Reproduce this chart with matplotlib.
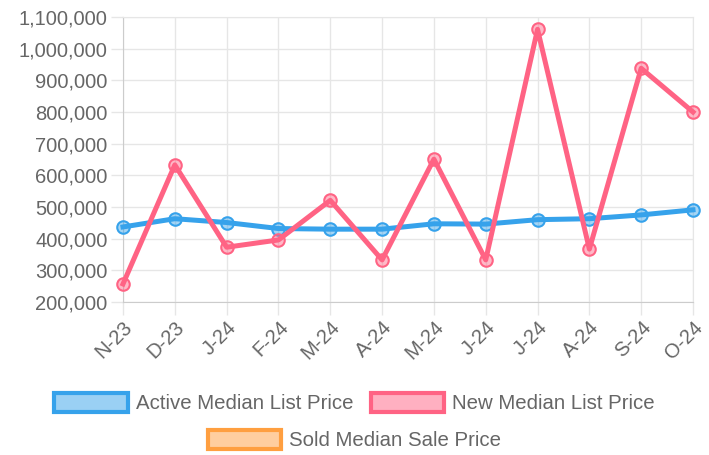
import matplotlib
matplotlib.use("Agg")
import matplotlib.pyplot as plt
from matplotlib.patches import Patch
from matplotlib.ticker import FuncFormatter
from matplotlib.colors import to_rgba

months = ["N-23", "D-23", "J-24", "F-24", "M-24", "A-24",
          "M-24", "J-24", "J-24", "A-24", "S-24", "O-24"]
active_list = [437000, 463000, 451000, 432000, 430000, 430000,
               447000, 446000, 460000, 463000, 475000, 491000]
new_list = [257000, 633000, 373000, 396000, 521000, 333000,
            651000, 333000, 1061000, 367000, 938000, 800000]
sold_sale = []  # no points drawn in the reference

blue = "#36A2EB"
red = "#FF6384"
orange = "#FF9F40"
txt = "#666666"
grid = "#e6e6e6"

plt.rcParams["font.family"] = ["Liberation Sans", "DejaVu Sans"]

fig = plt.figure(figsize=(7.09, 4.55), dpi=100)
ax = fig.add_axes([123/709, 1 - 302/455, (693-123)/709, (302-17)/455])

x = list(range(len(months)))
for vals, c in [(active_list, blue), (new_list, red)]:
    ax.plot(x, vals, color=c, lw=3.6, marker="o", ms=9,
            mfc=to_rgba(c, 0.45), mec=c, mew=1.5, zorder=3, clip_on=False)

ax.set_xlim(0, len(months) - 1)
ax.set_ylim(200000, 1100000)
ax.set_yticks(range(200000, 1100001, 100000))
ax.yaxis.set_major_formatter(FuncFormatter(lambda v, p: f"{int(v):,}"))
ax.set_xticks(x)
ax.set_xticklabels(months, rotation=45, ha="right", rotation_mode="anchor")

ax.grid(True, color=grid, lw=1)
ax.set_axisbelow(True)
for s in ax.spines.values():
    s.set_color(grid)
ax.spines["left"].set_color("#cccccc")
ax.spines["bottom"].set_color("#cccccc")
ax.tick_params(axis="both", colors=grid, labelcolor=txt, labelsize=14.5,
               length=9, width=1, pad=2)

def box(c):
    return Patch(facecolor=to_rgba(c, 0.5), edgecolor=c, linewidth=3)

leg_kw = dict(frameon=False, fontsize=14.7, labelcolor=txt, handlelength=3.6,
              handleheight=1.05, handletextpad=0.4, columnspacing=0.85,
              borderpad=0, loc="center")
fig.legend([box(blue), box(red)],
           ["Active Median List Price", "New Median List Price"],
           ncol=2, bbox_to_anchor=(0.5, 1 - 403/455), **leg_kw)
fig.legend([box(orange)], ["Sold Median Sale Price"],
           bbox_to_anchor=(0.5, 1 - 440/455), **leg_kw)

fig.savefig("out.png", dpi=100, facecolor="white")
